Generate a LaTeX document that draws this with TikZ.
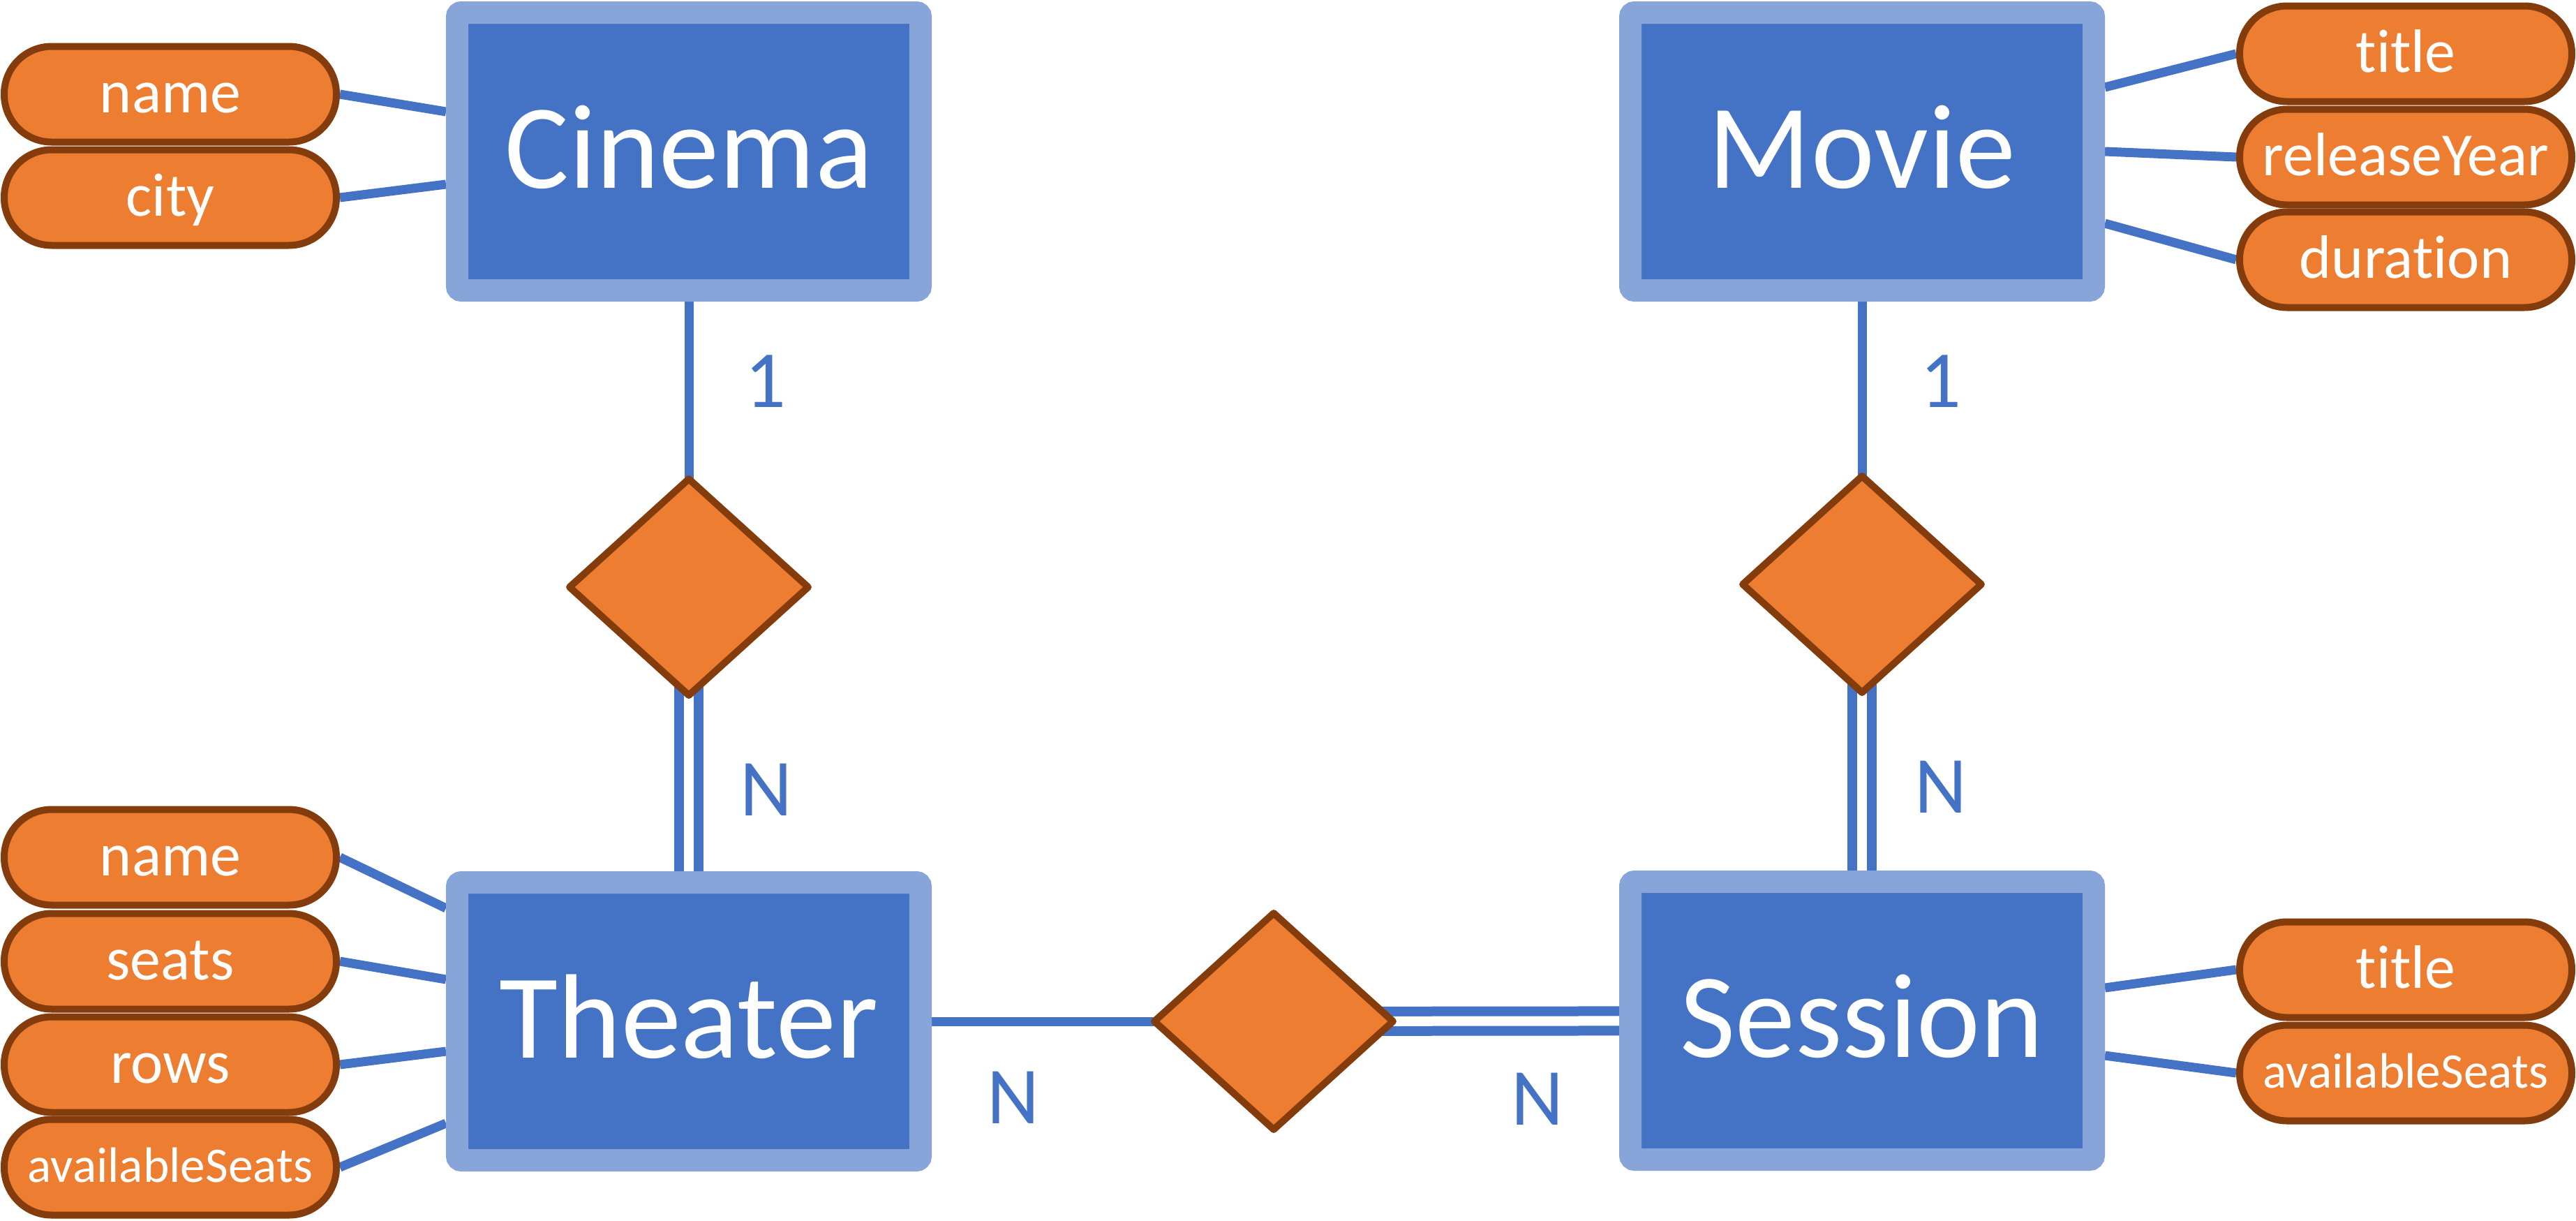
\documentclass[tikz,border=0pt]{standalone}
\usepackage{fontspec}
\setmainfont{Carlito}[Ligatures=NoCommon]
\usetikzlibrary{shapes.geometric,backgrounds}

\definecolor{entblue}{HTML}{4472C4}
\definecolor{entrim}{HTML}{87A5D9}
\definecolor{attrorange}{HTML}{ED7D31}
\definecolor{attrbrown}{HTML}{843C0C}

\begin{document}
\begin{tikzpicture}[
        entitybox/.style={rectangle, fill=entblue, draw=entrim, line width=0.32cm,
            rounded corners=0.06cm, minimum width=6.64cm, minimum height=3.98cm,
            text=white, text height=1.05cm, text depth=0cm,
            font=\fontsize{49}{58}\selectfont},
        attrbox/.style={rectangle, fill=attrorange, draw=attrbrown, line width=0.1cm,
            rounded corners=0.68cm, minimum width=4.76cm, minimum height=1.37cm,
            inner sep=0pt, text=white, text height=0.73cm, text depth=0.2cm,
            font=\fontsize{25}{30}\selectfont},
        longattr/.style={attrbox, text height=0.6cm, text depth=0.18cm,
            font=\fontsize{20.3}{24}\selectfont},
        relbox/.style={diamond, fill=attrorange, draw=attrbrown, line width=0.1cm,
            line join=round, minimum width=3.46cm, minimum height=3.14cm, inner sep=0pt},
        cardlabel/.style={text=entblue, font=\fontsize{33}{40}\selectfont, inner sep=0pt},
        link/.style={draw=entblue, line width=0.13cm},
        idlink/.style={draw=entblue, double=white, double distance=0.14cm,
            line width=0.14cm, line cap=round}
    ]
        \useasboundingbox (0,0) rectangle (36.91,-17.49);

        % 1. Entities (the four blue boxes)
        \node[entitybox] (cinema)  at (9.87,-2.17)   {Cinema};
        \node[entitybox] (movie)   at (26.68,-2.17)  {Movie};
        \node[entitybox] (theater) at (9.87,-14.63)  {Theater};
        \node[entitybox] (session) at (26.68,-14.62) {Session};

        % 2. Relationships (diamonds)
        \node[relbox] (cinemaRel)  at (9.87,-8.41)  {};
        \node[relbox] (movieRel)   at (26.68,-8.37) {};
        \node[relbox] (sessionRel) at (18.25,-14.63) {};

        % 3. Attributes
        % Left column
        \foreach \n/\t/\y in {cName/name/1.35, cCity/city/2.83}
            \node[attrbox] (\n) at (2.44,-\y) {\t};
        \foreach \n/\t/\y in {tName/name/12.28, tSeats/seats/13.77, tRows/rows/15.25}
            \node[attrbox] (\n) at (2.44,-\y) {\t};
        \node[longattr] (tFree) at (2.44,-16.72) {availableSeats};

        % Right column
        \foreach \n/\t/\y in {mTitle/title/0.77, mYear/releaseYear/2.25,
                              mDuration/duration/3.72}
            \node[attrbox] (\n) at (34.47,-\y) {\t};
        \node[attrbox]  (sTitle) at (34.47,-13.89) {title};
        \node[longattr] (sFree)  at (34.47,-15.37) {availableSeats};

        % 4. Cardinalities
        \node[cardlabel] (cardCinema)   at (10.97,-5.46)  {1};
        \node[cardlabel] (cardTheater)  at (10.98,-11.31) {N};
        \node[cardlabel] (cardMovie)    at (27.81,-5.46)  {1};
        \node[cardlabel] (cardSession)  at (27.81,-11.27) {N};
        \node[cardlabel] (cardPlaysL)   at (14.52,-15.72) {N};
        \node[cardlabel] (cardPlaysR)   at (22.03,-15.74) {N};

        % 5. Connectors, behind the shapes
        \begin{scope}[on background layer]
            % attribute lines
            \foreach \n/\dy in {cName/0.57, cCity/-0.47}
                \draw[link] (\n.east) -- ([yshift=\dy cm]cinema.west);
            \foreach \n/\dy in {tName/1.62, tSeats/0.60, tRows/-0.43, tFree/-1.46}
                \draw[link] (\n.east) -- ([yshift=\dy cm]theater.west);
            \foreach \n/\dy in {mTitle/0.92, mYear/0, mDuration/-1.03}
                \draw[link] (\n.west) -- ([yshift=\dy cm]movie.east);
            \foreach \n/\dy in {sTitle/0.47, sFree/-0.50}
                \draw[link] (\n.west) -- ([yshift=\dy cm]session.east);

            % relationship lines (double = total participation)
            \draw[link]   (cinema.center) -- (cinemaRel.center);
            \draw[idlink] (cinemaRel.center) -- (theater.center);
            \draw[link]   (movie.center) -- (movieRel.center);
            \draw[idlink] (movieRel.center) -- (session.center);
            \draw[link]   (theater.center) -- (sessionRel.center);
            \draw[idlink] (sessionRel.center) -- (session.center);
        \end{scope}

    \end{tikzpicture}
\end{document}
